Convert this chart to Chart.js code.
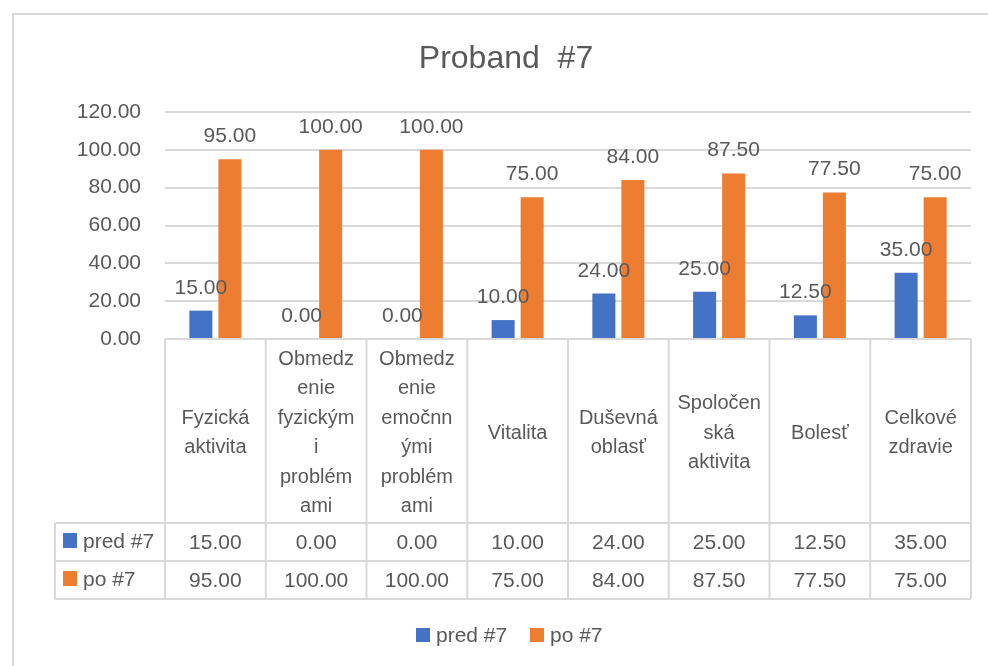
<!DOCTYPE html>
<html>
<head>
<meta charset="utf-8">
<title>Proband #7</title>
<script src="https://cdn.jsdelivr.net/npm/chart.js@4.4.0/dist/chart.umd.min.js"></script>
<style>
  html, body { margin: 0; padding: 0; background: #fff; }
  #wrap { width: 988px; height: 666px; }
</style>
</head>
<body>
<div id="wrap"><canvas id="myChart" width="988" height="666"></canvas></div>
<script>
// data
var categories = [
  ["Fyzická", "aktivita"],
  ["Obmedz", "enie", "fyzickým", "i", "problém", "ami"],
  ["Obmedz", "enie", "emočnn", "ými", "problém", "ami"],
  ["Vitalita"],
  ["Duševná", "oblasť"],
  ["Spoločen", "ská", "aktivita"],
  ["Bolesť"],
  ["Celkové", "zdravie"]
];
var predValues = [15, 0, 0, 10, 24, 25, 12.5, 35];
var poValues = [95, 100, 100, 75, 84, 87.5, 77.5, 75];
var seriesNames = ["pred #7", "po #7"];
var seriesColors = ["#4472C4", "#ED7D31"];
var chartTitle = "Proband  #7";

var textColor = "#595959";
var lineColor = "#d9d9d9";
var font = "Liberation Sans, Arial, sans-serif";

var tablePlugin = {
  id: "tablePlugin",
  afterDraw: function(chart) {
    var ctx = chart.ctx;
    var xs = chart.scales.x;
    var area = chart.chartArea;
    var n = categories.length;
    var cw = (area.right - area.left) / n;

    ctx.save();

    // outer border
    ctx.strokeStyle = lineColor;
    ctx.lineWidth = 2;
    ctx.beginPath();
    ctx.moveTo(13, 666);
    ctx.lineTo(13, 14);
    ctx.lineTo(988, 14);
    ctx.stroke();

    // title
    ctx.fillStyle = textColor;
    ctx.font = "32px " + font;
    ctx.textAlign = "center";
    ctx.textBaseline = "alphabetic";
    ctx.fillText(chartTitle, 506, 68);

    // data labels
    ctx.font = "21px " + font;
    chart.data.datasets.forEach(function(ds, di) {
      var meta = chart.getDatasetMeta(di);
      meta.data.forEach(function(bar, i) {
        ctx.fillText(ds.data[i].toFixed(2), bar.x, bar.y - 17);
      });
    });

    // table lines
    var top = area.bottom;
    var row1 = 523, row2 = 561, row3 = 599, leftX = 55;
    ctx.strokeStyle = lineColor;
    ctx.lineWidth = 2;
    ctx.beginPath();
    ctx.moveTo(area.left, top); ctx.lineTo(area.right, top);
    ctx.moveTo(leftX, row1); ctx.lineTo(area.right, row1);
    ctx.moveTo(leftX, row2); ctx.lineTo(area.right, row2);
    ctx.moveTo(leftX, row3); ctx.lineTo(area.right, row3);
    ctx.moveTo(leftX, row1); ctx.lineTo(leftX, row3);
    for (var k = 0; k <= n; k++) {
      var lx = area.left + k * cw;
      ctx.moveTo(lx, top); ctx.lineTo(lx, row3);
    }
    ctx.stroke();

    // category labels
    ctx.fillStyle = textColor;
    ctx.font = "20px " + font;
    for (var i = 0; i < n; i++) {
      var cx = xs.getPixelForValue(i);
      var lines = categories[i];
      for (var j = 0; j < lines.length; j++) {
        var by = 438.5 + (j - (lines.length - 1) / 2) * 29.4;
        ctx.fillText(lines[j], cx, by);
      }
    }

    // values in table
    ctx.font = "21px " + font;
    var rows = [predValues, poValues];
    var rowBase = [549, 587];
    for (var r = 0; r < rows.length; r++) {
      for (var c = 0; c < n; c++) {
        ctx.fillText(rows[r][c].toFixed(2), xs.getPixelForValue(c), rowBase[r]);
      }
      // row header
      ctx.fillStyle = seriesColors[r];
      ctx.fillRect(63, rowBase[r] - 16, 14, 15);
      ctx.fillStyle = textColor;
      ctx.textAlign = "left";
      ctx.fillText(seriesNames[r], 83, rowBase[r] - 1);
      ctx.textAlign = "center";
    }

    // legend
    ctx.textAlign = "left";
    ctx.font = "21px " + font;
    ctx.fillStyle = seriesColors[0];
    ctx.fillRect(416, 628, 14, 14);
    ctx.fillStyle = textColor;
    ctx.fillText(seriesNames[0], 436, 642);
    ctx.fillStyle = seriesColors[1];
    ctx.fillRect(530, 628, 14, 14);
    ctx.fillStyle = textColor;
    ctx.fillText(seriesNames[1], 550, 642);

    ctx.restore();
  }
};

var ctx = document.getElementById("myChart");

var chart = new Chart(ctx, {
  type: "bar",
  data: {
    labels: categories.map(function(c) { return c.join(" "); }),
    datasets: [
      {
        label: seriesNames[0],
        data: predValues,
        backgroundColor: seriesColors[0],
        categoryPercentage: 0.576,
        barPercentage: 0.793
      },
      {
        label: seriesNames[1],
        data: poValues,
        backgroundColor: seriesColors[1],
        categoryPercentage: 0.576,
        barPercentage: 0.793
      }
    ]
  },
  options: {
    responsive: false,
    animation: false,
    layout: {
      padding: { left: 0, top: 112, right: 17, bottom: 327 }
    },
    plugins: {
      legend: { display: false },
      title: { display: false },
      tooltip: { enabled: false }
    },
    scales: {
      x: { display: false },
      y: {
        min: 0,
        max: 120,
        border: { display: false },
        grid: { color: lineColor, lineWidth: 2, drawTicks: false },
        ticks: {
          stepSize: 20,
          padding: 24,
          color: textColor,
          font: { family: font, size: 21 },
          callback: function(v) { return v.toFixed(2); }
        },
        afterFit: function(scale) { scale.width = 165; }
      }
    }
  },
  plugins: [tablePlugin]
});
</script>
</body>
</html>
